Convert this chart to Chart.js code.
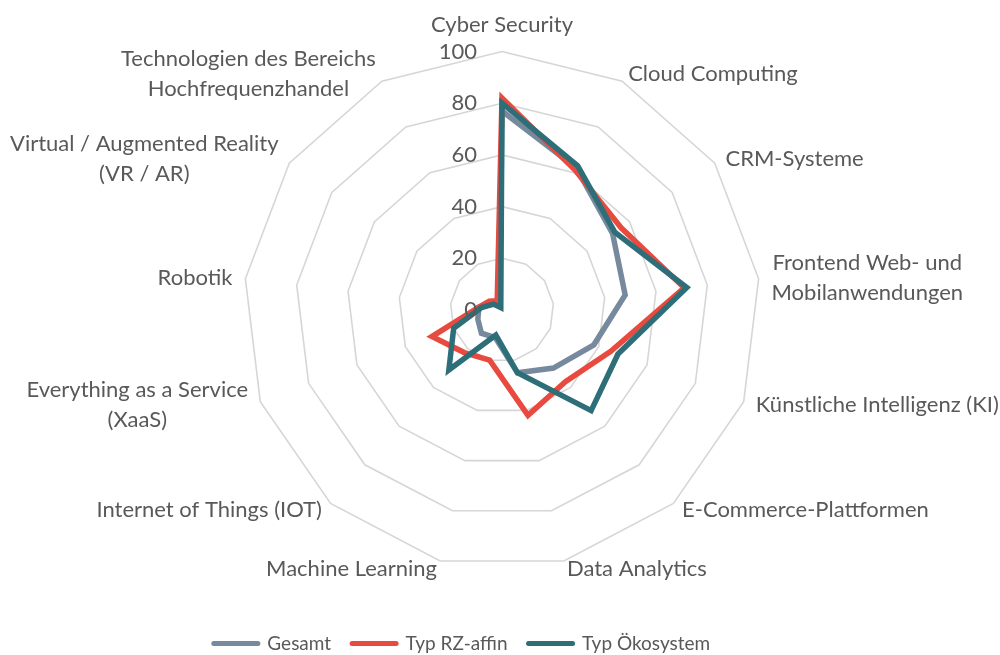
<!DOCTYPE html>
<html>
<head>
<meta charset="utf-8">
<script src="https://cdn.jsdelivr.net/npm/chart.js@4.4.1/dist/chart.umd.min.js"></script>
<style>
  html, body { margin: 0; padding: 0; background: #ffffff; }
  #wrap { width: 1000px; height: 655px; }
</style>
</head>
<body>
<div id="wrap"><canvas id="c" width="1000" height="655"></canvas></div>
<script>
// ---- data ----
const CATEGORIES = [
  'Cyber Security',
  'Cloud Computing',
  'CRM-Systeme',
  ['Frontend Web- und', 'Mobilanwendungen'],
  'Künstliche Intelligenz (KI)',
  'E-Commerce-Plattformen',
  'Data Analytics',
  'Machine Learning',
  'Internet of Things (IOT)',
  ['Everything as a Service', '(XaaS)'],
  'Robotik',
  ['Virtual / Augmented Reality', '(VR / AR)'],
  ['Technologien des Bereichs', 'Hochfrequenzhandel']
];
const SERIES_NAMES = ['Gesamt', 'Typ RZ-affin', 'Typ Ökosystem'];
const GESAMT     = [77, 62, 52, 48, 38, 30, 25, 11, 12, 10, 9, 4, 2];
const RZ_AFFIN   = [82, 61, 56, 71, 45, 37, 42, 20, 22, 29, 9, 6, 4];
const OEKOSYSTEM = [80, 63, 53, 72, 48, 52, 25, 10, 31, 20, 8, 4, 1];
const TICK_VALUES = [0, 20, 40, 60, 80, 100];

// ---- styling / layout ----
const COLORS = ['#778A9D', '#E84A3F', '#2E6E78'];
const TEXT_COLOR = '#595959';
const FONT_FAMILY = 'Lato, "Open Sans", sans-serif';
const LABEL_SIZE = 22;
const LABEL_LH = 1.36;
const LINE_WIDTH = 5.5;
const CX = 502, CY = 310, RADIUS = 258.5;
const LABEL_PAD_X = 13, LABEL_PAD_Y = 8;
const TICK_OFFSET = 25;

function placePointLabels(scale) {
  scale.xCenter = CX;
  scale.yCenter = CY;
  scale.drawingArea = RADIUS;
  const ctx = scale.ctx;
  const lh = LABEL_SIZE * LABEL_LH;
  const items = [];
  ctx.save();
  ctx.font = LABEL_SIZE + 'px ' + FONT_FAMILY;
  for (let i = 0; i < scale._pointLabels.length; i++) {
    const lines = [].concat(scale._pointLabels[i]);
    let w = 0;
    lines.forEach(l => { w = Math.max(w, ctx.measureText(l).width); });
    const h = lines.length * lh;
    const px = scale.getPointPosition(i, RADIUS + LABEL_PAD_X);
    const py = scale.getPointPosition(i, RADIUS + LABEL_PAD_Y);
    const deg = Math.round((((px.angle + Math.PI / 2) * 180 / Math.PI) % 360 + 360) % 360);
    let left, top;
    if (deg === 0) { left = px.x - w / 2; top = py.y - h - 4; }
    else if (deg === 180) { left = px.x - w / 2; top = py.y; }
    else if (deg < 180) { left = px.x; top = py.y - h / 2; }
    else { left = px.x - w; top = py.y - h / 2; }
    items.push({ visible: true, x: left + w / 2, y: top, textAlign: 'center',
                 left: left, top: top, right: left + w, bottom: top + h });
  }
  ctx.restore();
  scale._pointLabelItems = items;
}

const tickLabelPlugin = {
  id: 'tickLabels',
  afterDatasetsDraw(chart) {
    const s = chart.scales.r;
    const ctx = chart.ctx;
    ctx.save();
    ctx.font = LABEL_SIZE + 'px ' + FONT_FAMILY;
    ctx.fillStyle = TEXT_COLOR;
    ctx.textAlign = 'right';
    ctx.textBaseline = 'middle';
    s.ticks.forEach(t => {
      const d = s.getDistanceFromCenterForValue(t.value);
      ctx.fillText(String(t.label), s.xCenter - TICK_OFFSET, s.yCenter - d);
    });
    ctx.restore();
  }
};

const seriesData = [GESAMT, RZ_AFFIN, OEKOSYSTEM];
const datasets = seriesData.map((d, i) => ({
  label: SERIES_NAMES[i],
  data: d,
  borderColor: COLORS[i],
  backgroundColor: COLORS[i],
  borderWidth: LINE_WIDTH,
  pointRadius: 0,
  pointHoverRadius: 0,
  fill: false,
  order: 2 - i
}));

new Chart(document.getElementById('c'), {
  type: 'radar',
  data: { labels: CATEGORIES, datasets: datasets },
  options: {
    responsive: false,
    animation: false,
    layout: { padding: { left: 0, right: 76, top: 0, bottom: -8 } },
    elements: {
      line: { borderWidth: LINE_WIDTH, tension: 0, borderJoinStyle: 'miter', borderCapStyle: 'round' },
      point: { radius: 0, hoverRadius: 0, hitRadius: 0 }
    },
    plugins: {
      tooltip: { enabled: false },
      legend: {
        position: 'bottom',
        labels: {
          usePointStyle: true,
          pointStyle: 'line',
          pointStyleWidth: 44,
          padding: 21,
          color: TEXT_COLOR,
          font: { family: FONT_FAMILY, size: 19 },
          generateLabels: chart =>
            Chart.defaults.plugins.legend.labels.generateLabels(chart)
              .map(l => Object.assign({}, l, { lineCap: 'round', lineWidth: 5, pointStyle: 'line' })),
          sort: (a, b) => a.datasetIndex - b.datasetIndex
        }
      }
    },
    scales: {
      r: {
        min: 0,
        max: 100,
        afterBuildTicks: s => { s.ticks = TICK_VALUES.map(v => ({ value: v })); },
        ticks: { display: false },
        grid: { color: '#D6D6D6', lineWidth: 1.6, circular: false },
        angleLines: { display: false },
        pointLabels: {
          display: true,
          color: TEXT_COLOR,
          padding: LABEL_PAD_X,
          font: { family: FONT_FAMILY, size: LABEL_SIZE, lineHeight: LABEL_LH }
        },
        afterFit: placePointLabels
      }
    }
  },
  plugins: [tickLabelPlugin]
});
</script>
</body>
</html>
